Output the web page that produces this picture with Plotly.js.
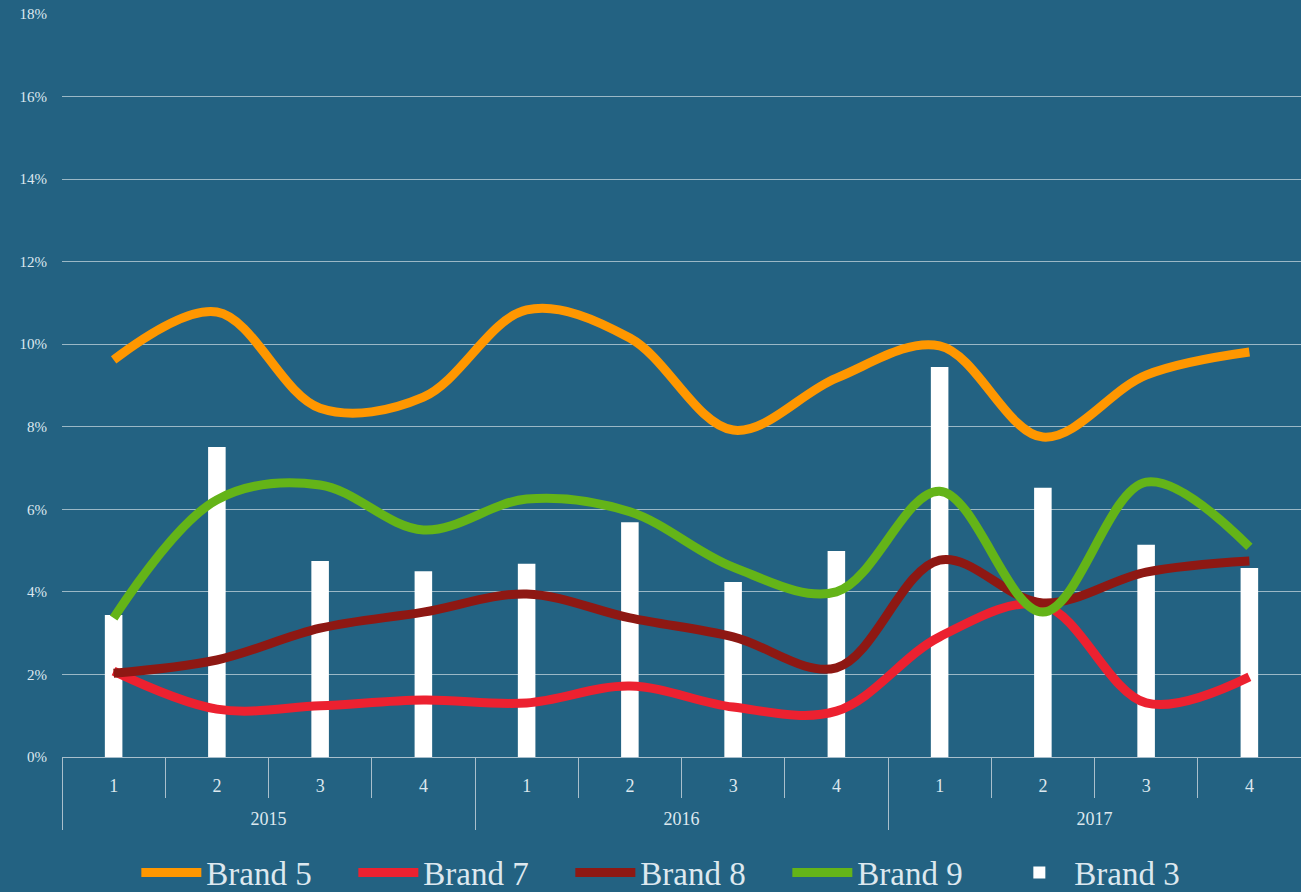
<!DOCTYPE html>
<html><head><meta charset="utf-8">
<script src="https://cdn.plot.ly/plotly-3.0.1.min.js"></script>
<style>html,body{margin:0;padding:0;background:#236282;}</style>
</head><body>
<div id="chart" style="width:1301px;height:892px;"></div>
<script>
const years = ["2015","2015","2015","2015","2016","2016","2016","2016","2017","2017","2017","2017"];
const quarters = ["1","2","3","4","1","2","3","4","1","2","3","4"];
const brand5 = [9.62, 10.78, 8.45, 8.72, 10.83, 10.15, 7.92, 9.18, 9.96, 7.75, 9.25, 9.81];
const brand7 = [2.08, 1.16, 1.24, 1.38, 1.31, 1.72, 1.21, 1.11, 2.91, 3.68, 1.31, 1.94];
const brand8 = [2.03, 2.35, 3.12, 3.51, 3.95, 3.37, 2.91, 2.16, 4.77, 3.73, 4.48, 4.75];
const brand9 = [3.37, 6.23, 6.59, 5.50, 6.25, 5.94, 4.60, 4.00, 6.44, 3.51, 6.66, 5.09];
const brand3 = [3.44, 7.51, 4.75, 4.50, 4.68, 5.69, 4.24, 4.99, 9.45, 6.52, 5.14, 4.58];

// quarter labels padded with an empty second line so the year row sits lower
const x = [years, quarters.map(q => q + "<br>&nbsp;")];
const fontFam = "Liberation Serif, DejaVu Serif, serif";
const txt = "#dde8ef";
const axCol = "#a9bfcc";

function line(name, y, color) {
  return {type: "scatter", mode: "lines", name: name, x: x, y: y,
    line: {color: color, width: 9, shape: "spline", smoothing: 1}};
}
const data = [
  line("Brand 5", brand5, "#ff9700"),
  line("Brand 7", brand7, "#ec2130"),
  line("Brand 8", brand8, "#8e1813"),
  line("Brand 9", brand9, "#64b418"),
  {type: "bar", name: "Brand 3", x: x, y: brand3, width: 0.17,
   marker: {color: "#ffffff", line: {width: 0}}}
];
const layout = {
  width: 1301, height: 892,
  paper_bgcolor: "#236282", plot_bgcolor: "#236282",
  margin: {l: 62, r: 0, t: 14, b: 135, autoexpand: false},
  font: {family: fontFam, color: txt, size: 16},
  showlegend: true,
  legend: {orientation: "h", x: 0.06, xanchor: "left", y: -0.118, yanchor: "top",
    font: {size: 33, color: txt, family: fontFam}, itemwidth: 60, traceorder: "normal",
    entrywidth: 142, entrywidthmode: "pixels"},
  xaxis: {type: "multicategory", showgrid: false, showline: true, linecolor: axCol, linewidth: 1,
    ticks: "outside", ticklen: 40, tickwidth: 1, tickcolor: axCol, showdividers: true, dividercolor: axCol, dividerwidth: 1,
    automargin: false, ticklabelstandoff: 12,
    tickfont: {size: 18, color: txt, family: fontFam}, fixedrange: true},
  yaxis: {range: [0, 18], dtick: 2, ticksuffix: "%", showgrid: true, automargin: false,
    gridcolor: "rgba(255,255,255,0.55)", gridwidth: 1, zeroline: false, showline: false,
    tickfont: {size: 15, color: txt, family: fontFam}, ticklabelstandoff: 14},
  bargap: 0.8
};
Plotly.newPlot("chart", data, layout, {staticPlot: true});
</script>
</body></html>
